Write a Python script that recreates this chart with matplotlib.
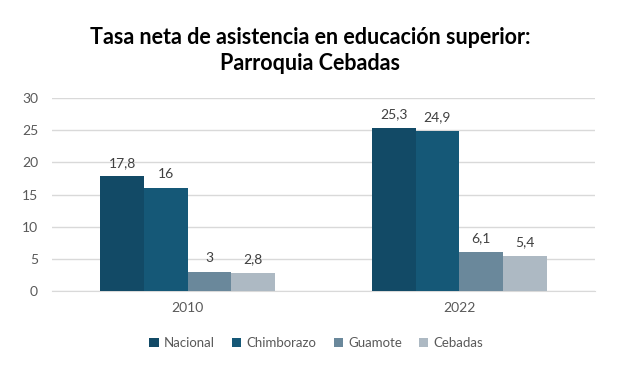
import matplotlib
matplotlib.use("Agg")
import matplotlib.pyplot as plt
import numpy as np

plt.rcParams['font.family'] = ['Lato', 'DejaVu Sans']

categories = ["2010", "2022"]
series_names = ["Nacional", "Chimborazo", "Guamote", "Cebadas"]
nacional = [17.8, 25.3]
chimborazo = [16.0, 24.9]
guamote = [3.0, 6.1]
cebadas = [2.8, 5.4]
labels = [["17,8", "25,3"], ["16", "24,9"], ["3", "6,1"], ["2,8", "5,4"]]
colors = ["#124A66", "#155877", "#6A889B", "#ADB9C3"]
yticks = [0, 5, 10, 15, 20, 25, 30]

fig = plt.figure(figsize=(6.21, 3.70), dpi=100)
ax = fig.add_axes([52/621, 1-291/370, (595-52)/621, (291-98)/370])

series = [nacional, chimborazo, guamote, cebadas]
x = np.arange(len(categories))
w = 0.161
for i, (vals, c, name) in enumerate(zip(series, colors, series_names)):
    pos = x + (i - 1.5) * w
    bars = ax.bar(pos, vals, width=w, color=c, label=name, zorder=3)
    for b, lab in zip(bars, labels[i]):
        ax.text(b.get_x() + b.get_width()/2, b.get_height() + 1.2, lab,
                ha='center', va='bottom', fontsize=10, color='#404040')

ax.set_xlim(-0.5, 1.5)
ax.set_ylim(0, 30)
ax.set_yticks(yticks)
ax.set_yticklabels([str(t) for t in yticks])
ax.set_xticks(x)
ax.set_xticklabels(categories)
ax.tick_params(axis='both', length=0, labelsize=10, colors='#595959')
ax.tick_params(axis='y', pad=10)
ax.tick_params(axis='x', pad=8)
ax.grid(axis='y', color='#D9D9D9', linewidth=1, zorder=0)
for s in ['top', 'right', 'left']:
    ax.spines[s].set_visible(False)
ax.spines['bottom'].set_color('#D9D9D9')

fig.text(0.5, 1-37/370, "Tasa neta de asistencia en educación superior:", ha='center', va='center',
         fontsize=15.5, fontweight='bold', color='black')
fig.text(0.5, 1-63/370, "Parroquia Cebadas", ha='center', va='center',
         fontsize=15.5, fontweight='bold', color='black')

leg = fig.legend(loc='center', bbox_to_anchor=(0.5 + 6/621, 1-343/370), ncol=4, frameon=False,
                 fontsize=9.5, handlelength=0.7, handleheight=0.7, handletextpad=0.4,
                 columnspacing=1.3)
for t in leg.get_texts():
    t.set_color('#595959')

fig.savefig("out.png", dpi=100, facecolor='white')
